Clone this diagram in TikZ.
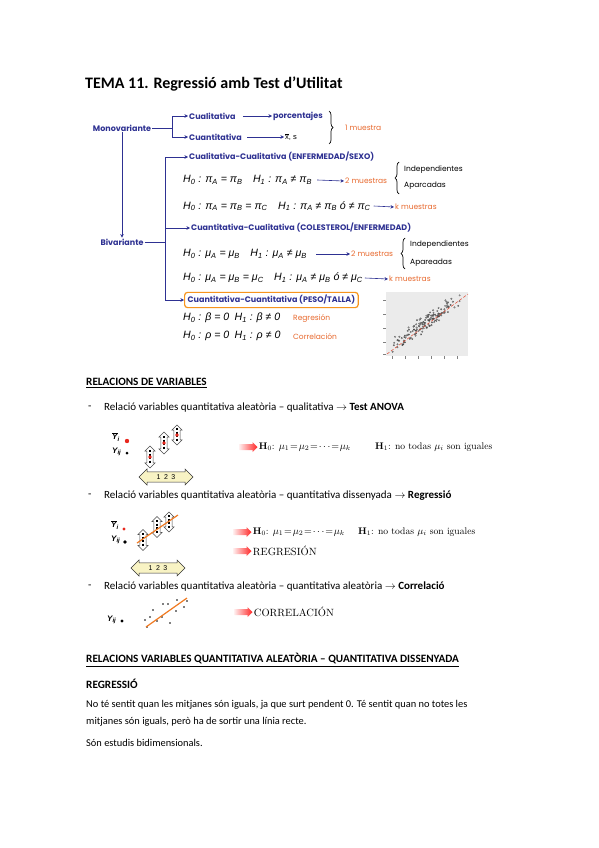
\documentclass[tikz,border=0pt]{standalone}
\usepackage[no-math]{fontspec}
\usepackage{amsmath,amssymb}
\usepackage{xcolor}
\usepackage{tikz}
\usetikzlibrary{arrows.meta,positioning,calc,decorations.pathreplacing,shapes.arrows}
\setmainfont{Carlito}
\newfontfamily\gothic{Poppins}
\newfontfamily\arial{Liberation Sans}
\newfontfamily\lmserif{Latin Modern Roman}
\newcommand{\sub}[1]{\textsubscript{#1}}
\newcommand{\ybar}{$\overline{\mbox{Y}}$\sub{i}}
\newcommand{\tightmath}{\thickmuskip=1.5mu\medmuskip=1mu}
\definecolor{diagblue}{HTML}{2E3192}
\definecolor{noteorange}{HTML}{E8692E}
\definecolor{boxorange}{HTML}{F7941D}
\definecolor{arrowcream}{HTML}{F8F3C4}
\definecolor{plotgrey}{HTML}{EBEBEB}
\definecolor{fitred}{HTML}{E0442C}
\definecolor{dotred}{HTML}{E8281E}
\definecolor{lineorange}{HTML}{F07A22}
\tikzset{
  blab/.style={font=\gothic\bfseries\fontsize{8}{9}\selectfont, text=diagblue, inner sep=1pt},
  olab/.style={font=\gothic\fontsize{7.5}{9}\selectfont, text=noteorange, inner sep=1pt, anchor=west},
  note/.style={font=\gothic\fontsize{7.5}{8}\selectfont, inner sep=1pt, anchor=west},
  hyp/.style={font=\arial\itshape\fontsize{10.6}{12}\selectfont, inner sep=1pt, anchor=west},
  conn/.style={diagblue, line width=0.9pt, -{Stealth[length=3.5pt,width=3.5pt]}},
  plain/.style={diagblue, line width=0.9pt},
  brc/.style={decorate, decoration={brace, amplitude=4pt}, line width=0.7pt},
  body/.style={font=\fontsize{10.4}{12}\selectfont, anchor=west, inner sep=0pt},
  item/.style={font=\fontsize{11}{13}\selectfont, anchor=west, inner sep=0pt},
  head/.style={font=\bfseries\fontsize{11.2}{13}\selectfont, anchor=west, inner sep=0pt},
  serif/.style={font=\lmserif\fontsize{9.6}{11}\selectfont\tightmath, anchor=west, inner sep=0pt},
  ylab/.style={font=\arial\bfseries\itshape\fontsize{8}{9}\selectfont, anchor=west, inner sep=0pt},
  redarr/.style={single arrow, minimum height=18pt, minimum width=10pt,
    single arrow head extend=2pt, inner sep=2.8pt, left color=red!8, right color=red!85, draw=none},
  vdarrow/.style={double arrow, rotate=90, draw=black!70, fill=white, line width=0.5pt,
    minimum height=#1, double arrow head extend=2pt, inner sep=2.8pt},
  hdarrow/.style={double arrow, draw=black!80, fill=arrowcream, line width=0.5pt,
    minimum width=16pt, minimum height=54pt, double arrow head extend=2.5pt, inner sep=1.5pt,
    font=\arial\fontsize{7}{8}\selectfont},
  inner dash/.style={line width=1.6pt, dash pattern=on 2pt off 1.5pt},
}

\begin{document}
\begin{tikzpicture}[x=1pt, y=-1pt]
\useasboundingbox[fill=white] (0,0) rectangle (599,848);

% ===== Title =====
\node[anchor=west, inner sep=0pt, font=\bfseries\fontsize{16}{19}\selectfont] (title) at (85,84) {TEMA 11. Regressió amb Test d’Utilitat};

% ===== Monovariante =====
\node[blab] (mono) at (122,128) {Monovariante};
\node[blab, anchor=west] (cual) at (188,116) {Cualitativa};
\node[blab, anchor=west] (cuan) at (188,137) {Cuantitativa};
\node[blab, anchor=west] (porc) at (272,116) {porcentajes};
\node[anchor=west, inner sep=1pt, font=\arial\fontsize{7.5}{8}\selectfont] (xs) at (284,137) {$\overline{\mbox{x}}$, s};
\coordinate (mfork) at (172,128);
\draw[plain] (mono.east) -- (mfork);
\draw[conn] (mfork) |- (cual.west);
\draw[conn] (mfork) |- (cuan.west);
\draw[conn] ([xshift=6pt]cual.east) -- (porc.west);
\draw[conn, line width=0.6pt] ([xshift=4pt]cuan.east) -- (xs.west);
\draw[brc] (329,111) -- (329,144);
\node[olab] (onem) at (344,128) {1 muestra};

% ===== Bivariante =====
\node[blab] (biv) at (122,242) {Bivariante};
\draw[conn] (mono.south) -- (biv.north);
\node[blab, anchor=west] (qq) at (188,157) {Cualitativa-Cualitativa (ENFERMEDAD/SEXO)};
\node[blab, anchor=west] (nq) at (190,228) {Cuantitativa-Cualitativa (COLESTEROL/ENFERMEDAD)};
\node[blab, anchor=west, draw=boxorange, line width=1.2pt, rounded corners=3pt, inner sep=3pt] (nn) at (184,300) {Cuantitativa-Cuantitativa (PESO/TALLA)};
\coordinate (bfork) at (165,242);
\draw[plain] (biv.east) -- (bfork);
\draw[conn] (bfork) |- (qq.west);
\draw[conn] (bfork) |- (nq.west);
\draw[conn] (bfork) |- (nn.west);

% ===== Hypotheses =====
\node[hyp] (hpa) at (182,180) {H\sub{0} : π\sub{A} = π\sub{B}\quad H\sub{1} : π\sub{A} ≠ π\sub{B}};
\node[hyp] (hpb) at (182,206) {H\sub{0} : π\sub{A} = π\sub{B} = π\sub{C}\quad H\sub{1} : π\sub{A} ≠ π\sub{B} ó ≠ π\sub{C}};
\node[hyp] (hma) at (182,254) {H\sub{0} : μ\sub{A} = μ\sub{B}\quad H\sub{1} : μ\sub{A} ≠ μ\sub{B}};
\node[hyp] (hmb) at (182,278) {H\sub{0} : μ\sub{A} = μ\sub{B} = μ\sub{C}\quad H\sub{1} : μ\sub{A} ≠ μ\sub{B} ó ≠ μ\sub{C}};
\node[hyp] (hbe) at (182,318) {H\sub{0} : β = 0\enspace H\sub{1} : β ≠ 0};
\node[hyp] (hrh) at (182,336) {H\sub{0} : ρ = 0\enspace H\sub{1} : ρ ≠ 0};

\node[olab] (twoa) at (344,181) {2 muestras};
\node[olab] (ka) at (394,207) {k muestras};
\node[olab] (twob) at (350,254) {2 muestras};
\node[olab] (kb) at (388,279) {k muestras};
\node[olab] (reg) at (292,319) {Regresión};
\node[olab] (cor) at (292,337) {Correlación};
\draw[conn, line width=0.6pt] ([xshift=4pt]hpa.east) -- (twoa.west);
\draw[conn, line width=0.6pt] ([xshift=2pt]hpb.east) -- (ka.west);
\draw[conn, line width=0.6pt] ([xshift=8pt]hma.east) -- (twob.west);
\draw[conn, line width=0.6pt] ([xshift=1pt]hmb.east) -- (kb.west);

\draw[brc] (399,194) -- (399,162);
\node[note] (inda) at (403,170) {Independientes};
\node[note] (apa) at (403,186) {Aparcadas};
\draw[brc] (405,269) -- (405,238);
\node[note] (indb) at (409,245) {Independientes};
\node[note] (apb) at (409,263) {Apareadas};

% ===== Scatter plot =====
\fill[plotgrey] (386,292) rectangle (468,356);
\foreach \t in {300,314,328,342,354} \draw[line width=0.3pt, black!50] (383,\t) -- (386,\t);
\foreach \t in {392,405,418,431,444,457} \draw[line width=0.3pt, black!50] (\t,356) -- (\t,359);
\pgfmathsetseed{11}
\foreach \k in {1,...,140}{
  \pgfmathsetmacro{\u}{0.5*(rand+rand)}
  \pgfmathsetmacro{\px}{425+38*\u}
  \pgfmathsetmacro{\py}{323-27*\u+5*(rand+rand)}
  \draw[line width=0.25pt, black!75] (\px,\py) circle (0.8pt);
}
\draw[fitred, densely dashed, line width=0.5pt] (387,354) -- (468,294);

% ===== Relacions de variables =====
\node[head] (rel) at (86,383) {\underline{RELACIONS DE VARIABLES}};
\node[item] (da) at (88,408) {-};
\node[item] (la) at (104,408) {Relació variables quantitativa aleatòria – qualitativa $\rightarrow$ \textbf{Test ANOVA}};
\node[item] (db) at (88,496) {-};
\node[item] (lb) at (104,496) {Relació variables quantitativa aleatòria – quantitativa dissenyada $\rightarrow$ \textbf{Regressió}};
\node[item] (dc) at (88,587) {-};
\node[item] (lc) at (104,587) {Relació variables quantitativa aleatòria – quantitativa aleatòria $\rightarrow$ \textbf{Correlació}};

% ANOVA sketch
\node[ylab] (ya) at (112,437) {\ybar};
\node[ylab] (yija) at (112,452) {Y\sub{ij}};
\fill[dotred] (127,441) circle (2.2pt);
\fill (127,453) circle (1.5pt);
\node[vdarrow=22pt] (va1) at (150,457) {};
\node[vdarrow=22pt] (va2) at (164,443) {};
\node[vdarrow=20pt] (va3) at (177,435) {};
\foreach \v in {va1,va2,va3}{
  \draw[inner dash] ($(\v.center)+(0,-7)$) -- ($(\v.center)+(0,7)$);
  \fill[dotred] (\v.center) circle (1.8pt);
}
\node[hdarrow] (ha) at (166,477) {1\enspace 2\enspace 3};
\node[redarr] (ra1) at (247,447) {};
\node[serif, right=1pt of ra1] (anova) {\textbf{H}\sub{0}: $\mu_1 = \mu_2 = \cdots = \mu_k$};
\node[serif] (anovb) at (375,447) {\textbf{H}\sub{1}: no todas $\mu_i$ son iguales};

% Regression sketch
\node[ylab] (yb) at (111,525) {\ybar};
\node[ylab] (yijb) at (111,540) {Y\sub{ij}};
\fill[dotred] (124,529) circle (1.6pt);
\fill (125,542) circle (1.8pt);
\node[vdarrow=21pt] (vb1) at (143,540) {};
\node[vdarrow=21pt] (vb2) at (157,527) {};
\node[vdarrow=20pt] (vb3) at (169,522) {};
\foreach \v in {vb1,vb2,vb3}
  \draw[inner dash] ($(\v.center)+(0,-7)$) -- ($(\v.center)+(0,7)$);
\draw[lineorange, line width=1.2pt] (137,543) -- (178,515);
\node[hdarrow] (hb) at (158,568) {1\enspace 2\enspace 3};
\node[redarr] (rb1) at (241,532) {};
\node[serif, right=1pt of rb1] (rega) {\textbf{H}\sub{0}: $\mu_1 = \mu_2 = \cdots = \mu_k$};
\node[serif] (regb) at (358,532) {\textbf{H}\sub{1}: no todas $\mu_i$ son iguales};
\node[redarr] (rb2) at (241,551) {};
\node[serif, right=1pt of rb2, font=\lmserif\fontsize{10.5}{12}\selectfont] (regt) {REGRESIÓN};

% Correlation sketch
\node[ylab] (yijc) at (107,620) {Y\sub{ij}};
\fill (122,621) circle (1.6pt);
\foreach \p in {(145,620),(150,617),(153,610),(157,621),(162,617),(163,604),(168,604),(170,623),(176,611),(177,600),(184,607),(187,601),(147,627)}
  \fill \p circle (0.8pt);
\draw[lineorange, line width=1.2pt] (146,627) -- (187,598);
\node[redarr] (rc1) at (242,612) {};
\node[serif, right=1pt of rc1, font=\lmserif\fontsize{10.5}{12}\selectfont] (corr) {CORRELACIÓN};

% ===== Regressio =====
\node[head] (rel2) at (86,660) {\underline{RELACIONS VARIABLES QUANTITATIVA ALEATÒRIA – QUANTITATIVA DISSENYADA}};
\node[head] (regh) at (86,684) {REGRESSIÓ};
\node[body] (p1) at (86,705) {No té sentit quan les mitjanes són iguals, ja que surt pendent 0. Té sentit quan no totes les};
\node[body] (p2) at (86,722) {mitjanes són iguals, però ha de sortir una línia recte.};
\node[body] (p3) at (86,743) {Són estudis bidimensionals.};

\end{tikzpicture}
\end{document}
